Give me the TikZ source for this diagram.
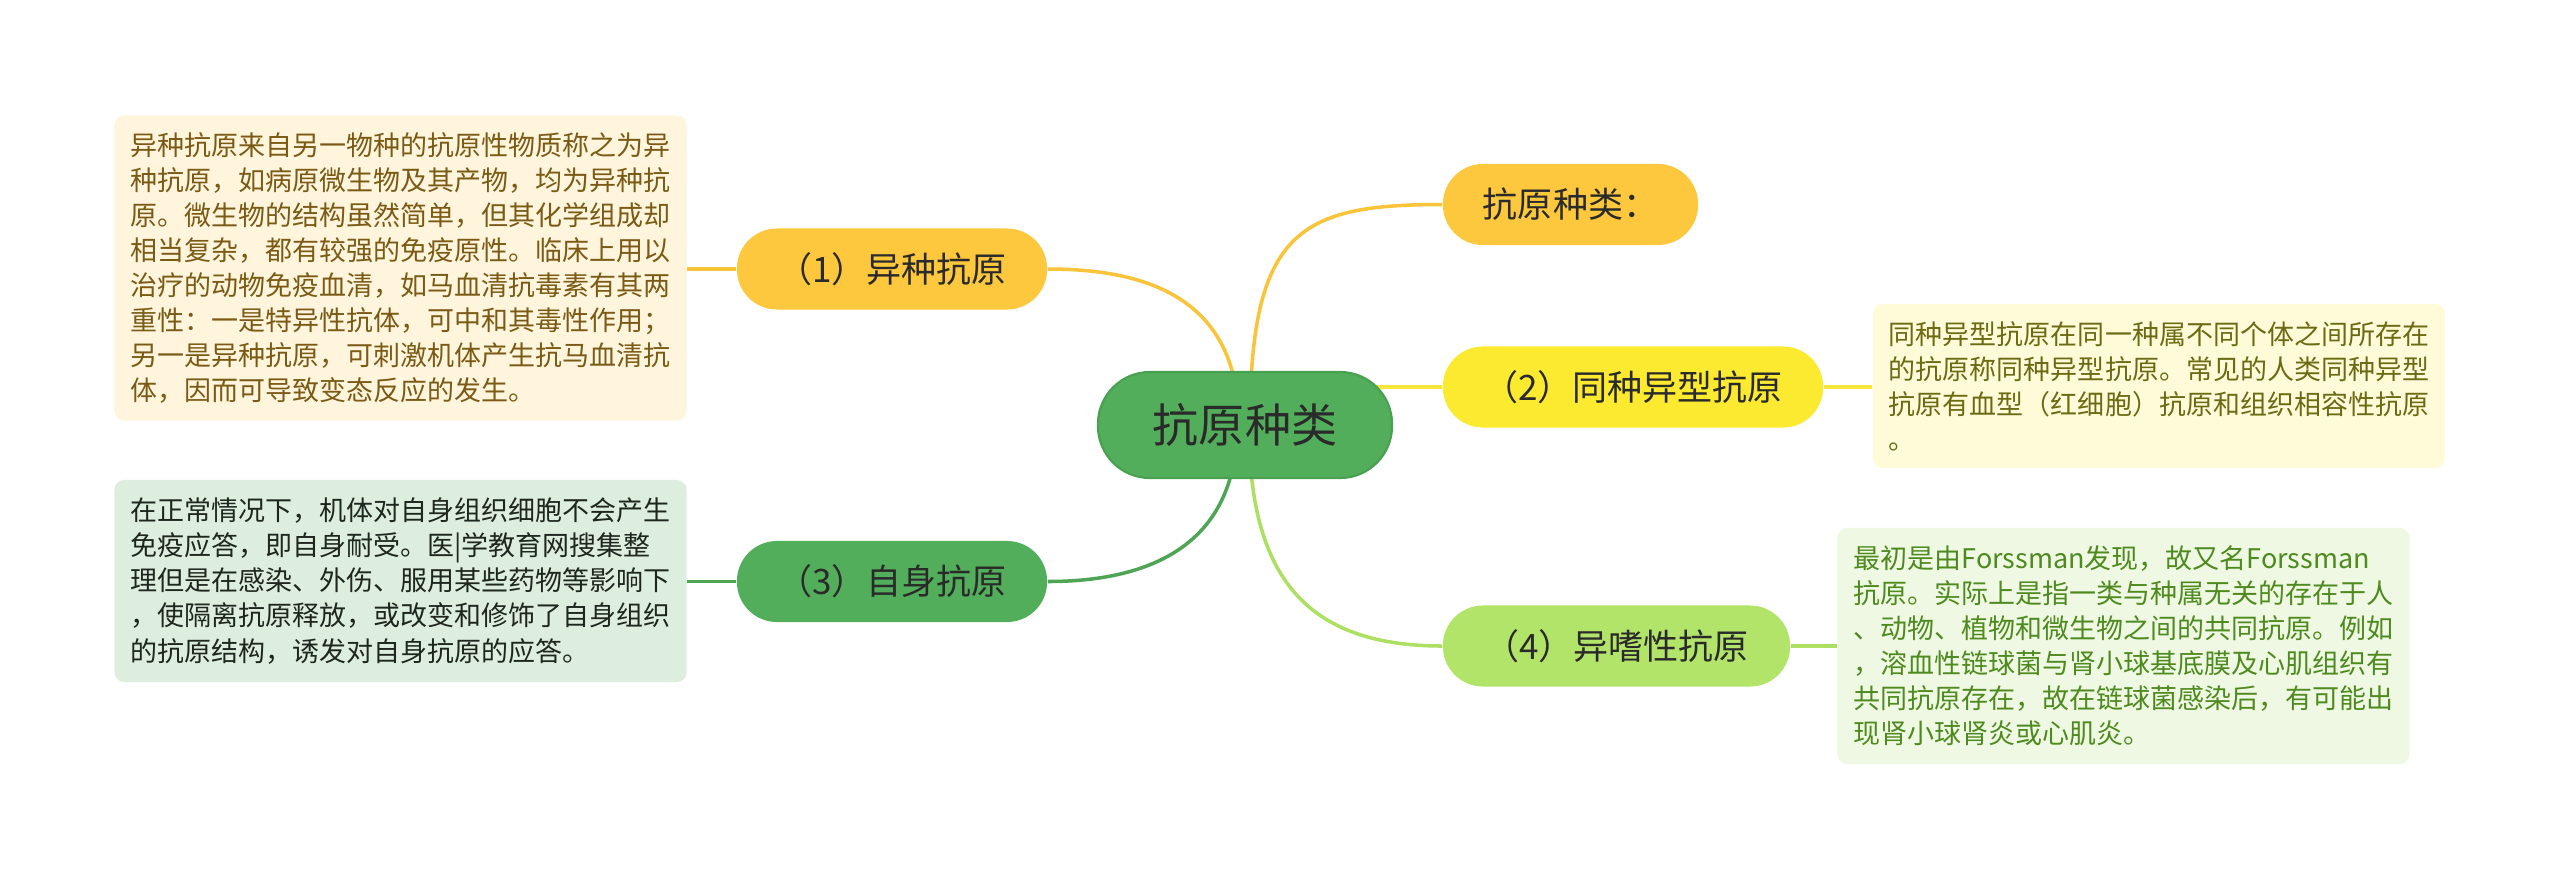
\documentclass[tikz,border=0pt]{standalone}
\usepackage{fontspec}
\newfontfamily\cjk{Noto Sans CJK SC}
\usetikzlibrary{calc}
\pgfdeclarelayer{bg}
\pgfsetlayers{bg,main}
\definecolor{corange}{HTML}{FDC83D}
\definecolor{cyellow}{HTML}{FCEA30}
\definecolor{cgreen}{HTML}{52AE5A}
\definecolor{cgreenb}{HTML}{48A050}
\definecolor{clgreen}{HTML}{B3E46A}
\definecolor{lorange}{HTML}{FAC43A}
\definecolor{lyellow}{HTML}{F9E53A}
\definecolor{lgreen}{HTML}{4EA655}
\definecolor{llgreen}{HTML}{ADE062}
\definecolor{bgone}{HTML}{FFF5DC}
\definecolor{txone}{HTML}{7A5A14}
\definecolor{bgtwo}{HTML}{FFFBD9}
\definecolor{txtwo}{HTML}{6C6A12}
\definecolor{bgthree}{HTML}{DDEEDE}
\definecolor{txthree}{HTML}{1E261E}
\definecolor{bgfour}{HTML}{EEF8E2}
\definecolor{txfour}{HTML}{4E8A1E}
\definecolor{ctext}{HTML}{2A2A2A}
\begin{document}
\begin{tikzpicture}[x=0.01cm,y=-0.01cm,
  branch/.style={rectangle, rounded corners=0.4cm, minimum height=0.81cm,
    inner sep=0pt, text=ctext, font=\cjk\fontsize{9.96pt}{12pt}\selectfont},
  rootnode/.style={rectangle, rounded corners=0.52cm, minimum height=1.06cm,
    minimum width=2.94cm, inner sep=0pt, fill=cgreen, draw=cgreenb, line width=0.6pt,
    text=ctext, font=\cjk\fontsize{13.1pt}{15pt}\selectfont},
  textbox/.style={rectangle, rounded corners=0.1cm, inner xsep=0.16cm, inner ysep=0.1cm,
    align=left, font=\cjk\fontsize{7.68pt}{9.96pt}\selectfont},
  conn/.style={line width=1pt}
]
\useasboundingbox (0,0) rectangle (2560,881);

\node[rootnode] (c) at (1245,425) {抗原种类};

\node[branch, fill=corange, minimum width=2.55cm] (k) at (1570.5,204.5) {抗原种类：};
\node[branch, fill=cyellow, minimum width=3.80cm] (b2) at (1633,387) {（2）同种异型抗原};
\node[branch, fill=clgreen, minimum width=3.47cm] (b4) at (1616.5,646) {（4）异嗜性抗原};
\node[branch, fill=corange, minimum width=3.10cm] (b1) at (892,269) {（1）异种抗原};
\node[branch, fill=cgreen, minimum width=3.10cm] (b3) at (892,581.5) {（3）自身抗原};

\node[textbox, fill=bgone, text=txone, minimum width=5.69cm, minimum height=3.05cm] (t1) at (400.5,268) {异种抗原来自另一物种的抗原性物质称之为异\\种抗原，如病原微生物及其产物，均为异种抗\\原。微生物的结构虽然简单，但其化学组成却\\相当复杂，都有较强的免疫原性。临床上用以\\治疗的动物免疫血清，如马血清抗毒素有其两\\重性：一是特异性抗体，可中和其毒性作用；\\另一是异种抗原，可刺激机体产生抗马血清抗\\体，因而可导致变态反应的发生。};

\node[textbox, fill=bgthree, text=txthree, minimum width=5.69cm, minimum height=2.02cm] (t3) at (400.5,581) {在正常情况下，机体对自身组织细胞不会产生\\免疫应答，即自身耐受。医|学教育网搜集整\\理但是在感染、外伤、服用某些药物等影响下\\，使隔离抗原释放，或改变和修饰了自身组织\\的抗原结构，诱发对自身抗原的应答。};

\node[textbox, fill=bgtwo, text=txtwo, minimum width=5.70cm, minimum height=1.64cm] (t2) at (2159,386) {同种异型抗原在同一种属不同个体之间所存在\\的抗原称同种异型抗原。常见的人类同种异型\\抗原有血型（红细胞）抗原和组织相容性抗原\\。};

\node[textbox, fill=bgfour, text=txfour, minimum width=5.69cm, minimum height=2.36cm] (t4) at (2123.5,646) {最初是由Forssman发现，故又名Forssman\\抗原。实际上是指一类与种属无关的存在于人\\、动物、植物和微生物之间的共同抗原。例如\\，溶血性链球菌与肾小球基底膜及心肌组织有\\共同抗原存在，故在链球菌感染后，有可能出\\现肾小球肾炎或心肌炎。};

\begin{pgfonlayer}{bg}
  \fill[white] (0,0) rectangle (2560,881);
  \coordinate (cu1) at (1239,425);
  \coordinate (cu2) at (1250,425);
  \coordinate (cd1) at (1237,425);
  \coordinate (cd2) at (1249,425);
  \draw[conn, lorange] (cu2) .. controls (1250,230) and (1300,204.5) .. (k.west);
  \draw[conn, lorange] (cu1) .. controls (1239,300) and (1150,269) .. (b1.east);
  \draw[conn, lyellow] (b2.west -| c.center) -- (b2.west);
  \draw[conn, lgreen] (cd1) .. controls (1237,545) and (1150,581.5) .. (b3.east);
  \draw[conn, llgreen] (cd2) .. controls (1249,570) and (1300,646) .. (b4.west);
  \draw[conn, lorange] (b1.west) -- (b1.west -| t1.east);
  \draw[conn, lgreen] (b3.west) -- (b3.west -| t3.east);
  \draw[conn, lyellow] (b2.east) -- (b2.east -| t2.west);
  \draw[conn, llgreen] (b4.east) -- (b4.east -| t4.west);
\end{pgfonlayer}
\end{tikzpicture}
\end{document}
